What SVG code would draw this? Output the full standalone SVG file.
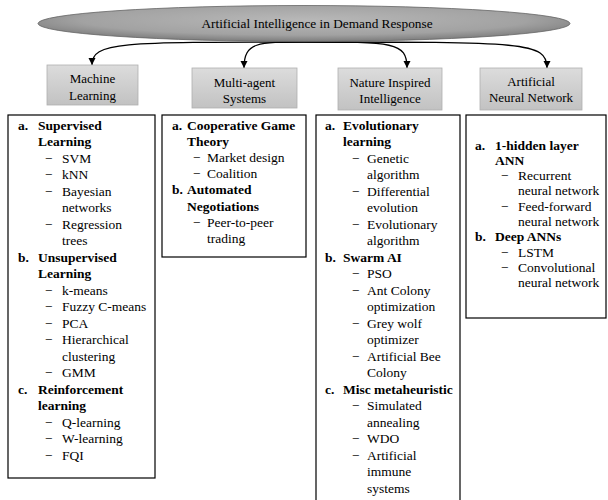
<svg xmlns="http://www.w3.org/2000/svg" width="608" height="500" viewBox="0 0 608 500">
<style>
.t{font-family:"Liberation Serif","Times New Roman",serif;font-size:13.5px;fill:#000}
.b{font-weight:bold}
.h{font-family:"Liberation Serif","Times New Roman",serif;font-size:13px;fill:#000;text-anchor:middle}
.box{fill:#fff;stroke:#000;stroke-width:1.2}
.hdr{fill:url(#hg);stroke:#b0b0b0;stroke-width:0.8}
.conn{fill:none;stroke:#000;stroke-width:1.3}
</style>
<defs>
<linearGradient id="hg" x1="0" y1="0" x2="0" y2="1">
<stop offset="0" stop-color="#dcdcdc"/>
<stop offset="1" stop-color="#c2c2c2"/>
</linearGradient>
<radialGradient id="eg" cx="0.5" cy="0.4" r="0.6">
<stop offset="0" stop-color="#b8b8b8"/>
<stop offset="0.7" stop-color="#a2a2a2"/>
<stop offset="1" stop-color="#7c7c7c"/>
</radialGradient>
<marker id="ah" markerUnits="userSpaceOnUse" markerWidth="8" markerHeight="8" refX="7" refY="4" orient="auto">
<path d="M0,0.5 L7,4 L0,7.5 z" fill="#000"/>
</marker>
</defs>

<g id="connectors">
<path class="conn" d="M304,42 C120,42 92,42 92,65" marker-end="url(#ah)"/>
<path class="conn" d="M304,42 C258,42 244,42 244,68" marker-end="url(#ah)"/>
<path class="conn" d="M304,42 C393,42 407,42 407,68" marker-end="url(#ah)"/>
<path class="conn" d="M304,42 C525,42 547,42 547,68" marker-end="url(#ah)"/>
</g>

<g id="root">
<ellipse cx="304" cy="23.5" rx="266" ry="18" fill="url(#eg)" stroke="#666" stroke-width="0.8"/>
<text class="h" x="317" y="28" style="font-size:13.3px">Artificial Intelligence in Demand Response</text>
</g>

<g id="ml-header">
<rect class="hdr" x="47" y="65" width="91" height="40"/>
<text class="h" x="92.5" y="83">Machine</text>
<text class="h" x="92.5" y="99.5">Learning</text>
</g>
<g id="mas-header">
<rect class="hdr" x="192" y="68" width="105" height="40"/>
<text class="h" x="244.5" y="86.5">Multi-agent</text>
<text class="h" x="244.5" y="102.5">Systems</text>
</g>
<g id="nii-header">
<rect class="hdr" x="338" y="68" width="104" height="42"/>
<text class="h" x="390" y="86.5">Nature Inspired</text>
<text class="h" x="390" y="102.5">Intelligence</text>
</g>
<g id="ann-header">
<rect class="hdr" x="480" y="68" width="102" height="42"/>
<text class="h" x="531" y="85.5">Artificial</text>
<text class="h" x="531" y="101.5">Neural Network</text>
</g>

<g id="ml-content">
<rect class="box" x="8" y="115" width="147" height="363"/>
<text class="t b" x="18" y="129.5">a.</text><text class="t b" x="38" y="129.5">Supervised</text>
<text class="t b" x="38" y="146">Learning</text>
<text class="t" x="45" y="162.5">−</text><text class="t" x="62" y="162.5">SVM</text>
<text class="t" x="45" y="179">−</text><text class="t" x="62" y="179">kNN</text>
<text class="t" x="45" y="195.5">−</text><text class="t" x="62" y="195.5">Bayesian</text>
<text class="t" x="62" y="212">networks</text>
<text class="t" x="45" y="228.5">−</text><text class="t" x="62" y="228.5">Regression</text>
<text class="t" x="62" y="245">trees</text>
<text class="t b" x="18" y="261.5">b.</text><text class="t b" x="38" y="261.5">Unsupervised</text>
<text class="t b" x="38" y="278">Learning</text>
<text class="t" x="45" y="294.5">−</text><text class="t" x="62" y="294.5">k-means</text>
<text class="t" x="45" y="311">−</text><text class="t" x="62" y="311">Fuzzy C-means</text>
<text class="t" x="45" y="327.5">−</text><text class="t" x="62" y="327.5">PCA</text>
<text class="t" x="45" y="344">−</text><text class="t" x="62" y="344">Hierarchical</text>
<text class="t" x="62" y="360.5">clustering</text>
<text class="t" x="45" y="377">−</text><text class="t" x="62" y="377">GMM</text>
<text class="t b" x="18" y="393.5">c.</text><text class="t b" x="38" y="393.5">Reinforcement</text>
<text class="t b" x="38" y="410">learning</text>
<text class="t" x="45" y="426.5">−</text><text class="t" x="62" y="426.5">Q-learning</text>
<text class="t" x="45" y="443">−</text><text class="t" x="62" y="443">W-learning</text>
<text class="t" x="45" y="459.5">−</text><text class="t" x="62" y="459.5">FQI</text>
</g>

<g id="mas-content">
<rect class="box" x="162" y="115" width="144" height="142"/>
<text class="t b" x="172" y="129.5">a.</text><text class="t b" x="187" y="129.5">Cooperative Game</text>
<text class="t b" x="187" y="145.7">Theory</text>
<text class="t" x="193" y="161.9">−</text><text class="t" x="207" y="161.9">Market design</text>
<text class="t" x="193" y="178.1">−</text><text class="t" x="207" y="178.1">Coalition</text>
<text class="t b" x="172" y="194.3">b.</text><text class="t b" x="187" y="194.3">Automated</text>
<text class="t b" x="187" y="210.5">Negotiations</text>
<text class="t" x="193" y="226.7">−</text><text class="t" x="207" y="226.7">Peer-to-peer</text>
<text class="t" x="207" y="242.9">trading</text>
</g>

<g id="nii-content">
<rect class="box" x="316" y="115" width="144" height="400"/>
<text class="t b" x="325" y="129.5">a.</text><text class="t b" x="343" y="129.5">Evolutionary</text>
<text class="t b" x="343" y="146">learning</text>
<text class="t" x="352" y="162.5">−</text><text class="t" x="367" y="162.5">Genetic</text>
<text class="t" x="367" y="179">algorithm</text>
<text class="t" x="352" y="195.5">−</text><text class="t" x="367" y="195.5">Differential</text>
<text class="t" x="367" y="212">evolution</text>
<text class="t" x="352" y="228.5">−</text><text class="t" x="367" y="228.5">Evolutionary</text>
<text class="t" x="367" y="245">algorithm</text>
<text class="t b" x="325" y="261.5">b.</text><text class="t b" x="343" y="261.5">Swarm AI</text>
<text class="t" x="352" y="278">−</text><text class="t" x="367" y="278">PSO</text>
<text class="t" x="352" y="294.5">−</text><text class="t" x="367" y="294.5">Ant Colony</text>
<text class="t" x="367" y="311">optimization</text>
<text class="t" x="352" y="327.5">−</text><text class="t" x="367" y="327.5">Grey wolf</text>
<text class="t" x="367" y="344">optimizer</text>
<text class="t" x="352" y="360.5">−</text><text class="t" x="367" y="360.5">Artificial Bee</text>
<text class="t" x="367" y="377">Colony</text>
<text class="t b" x="325" y="393.5">c.</text><text class="t b" x="343" y="393.5">Misc metaheuristic</text>
<text class="t" x="352" y="410">−</text><text class="t" x="367" y="410">Simulated</text>
<text class="t" x="367" y="426.5">annealing</text>
<text class="t" x="352" y="443">−</text><text class="t" x="367" y="443">WDO</text>
<text class="t" x="352" y="459.5">−</text><text class="t" x="367" y="459.5">Artificial</text>
<text class="t" x="367" y="476">immune</text>
<text class="t" x="367" y="492.5">systems</text>
</g>

<g id="ann-content">
<rect class="box" x="466" y="115" width="140" height="203"/>
<text class="t b" x="475" y="149.5">a.</text><text class="t b" x="495" y="149.5">1-hidden layer</text>
<text class="t b" x="495" y="164.8">ANN</text>
<text class="t" x="501" y="180.1">−</text><text class="t" x="518" y="180.1">Recurrent</text>
<text class="t" x="518" y="195.4">neural network</text>
<text class="t" x="501" y="210.7">−</text><text class="t" x="518" y="210.7">Feed-forward</text>
<text class="t" x="518" y="226">neural network</text>
<text class="t b" x="475" y="241.3">b.</text><text class="t b" x="495" y="241.3">Deep ANNs</text>
<text class="t" x="501" y="256.6">−</text><text class="t" x="518" y="256.6">LSTM</text>
<text class="t" x="501" y="271.9">−</text><text class="t" x="518" y="271.9">Convolutional</text>
<text class="t" x="518" y="287.2">neural network</text>
</g>
</svg>
